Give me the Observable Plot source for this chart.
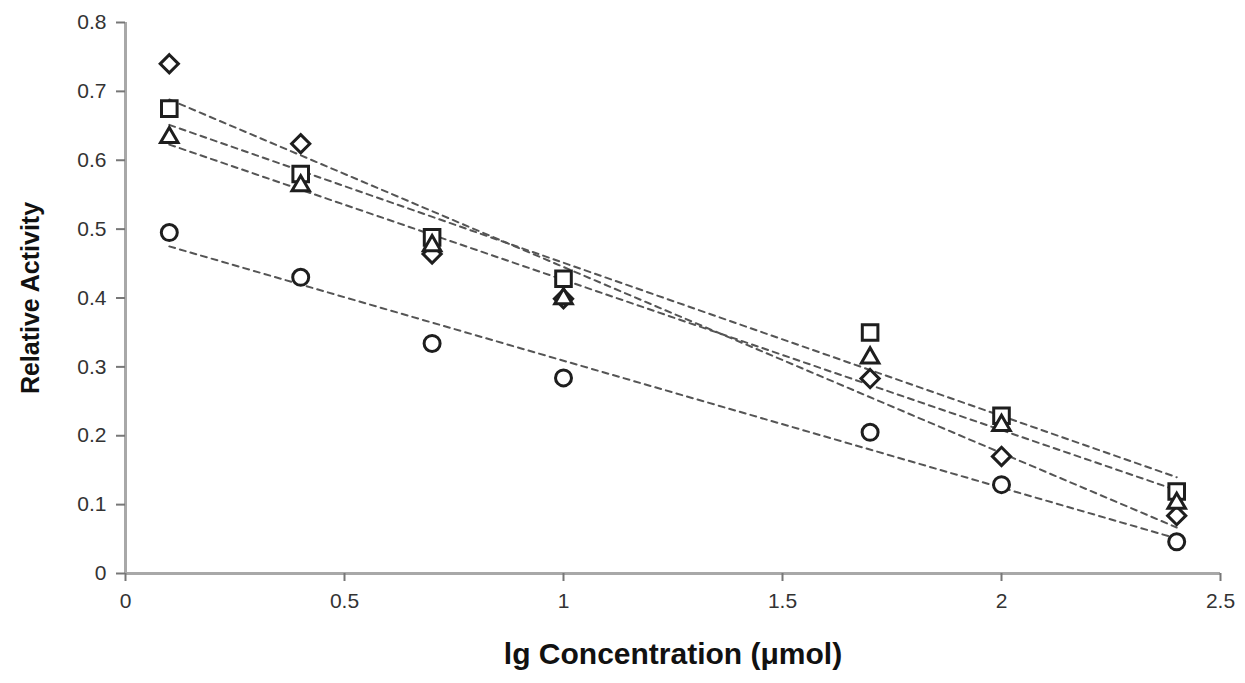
<!DOCTYPE html>
<html>
<head>
<meta charset="utf-8">
<script src="https://cdn.jsdelivr.net/npm/d3@7"></script>
<script src="https://cdn.jsdelivr.net/npm/@observablehq/plot@0.6"></script>
<style>
  html, body { margin: 0; padding: 0; background: #fff; }
  #chart { width: 1245px; height: 683px; }
</style>
</head>
<body>
<div id="chart"></div>
<script>
// ---- data ----
const concentrations = [0.1, 0.4, 0.7, 1.0, 1.7, 2.0, 2.4];
const diamondValues  = [0.740, 0.624, 0.464, 0.399, 0.283, 0.170, 0.084];
const squareValues   = [0.675, 0.580, 0.488, 0.428, 0.350, 0.229, 0.119];
const triangleValues = [0.633, 0.563, 0.476, 0.399, 0.313, 0.215, 0.102];
const circleValues   = [0.495, 0.430, 0.334, 0.284, 0.205, 0.129, 0.046];
const xTicks = [0, 0.5, 1, 1.5, 2, 2.5];
const yTicks = [0, 0.1, 0.2, 0.3, 0.4, 0.5, 0.6, 0.7, 0.8];
const xTitle = "lg Concentration (μmol)";
const yTitle = "Relative Activity";

const series = [
  {name: "diamond",  symbol: "diamond2", r: 8.2, values: diamondValues},
  {name: "square",   symbol: "square",   r: 8.8, values: squareValues},
  {name: "triangle", symbol: "triangle", r: 6.5, values: triangleValues},
  {name: "circle",   symbol: "circle",   r: 8,   values: circleValues}
];
const rows = series.flatMap(s => concentrations.map((x, i) => ({series: s.name, x, y: s.values[i]})));

const ink = "#1e1e1e";
const lineInk = "#555";

const marks = [
  Plot.ruleY([0], {stroke: "#a8a8a8", strokeWidth: 3}),
  Plot.ruleX([0], {stroke: "#a8a8a8", strokeWidth: 3}),
  Plot.axisX({ticks: xTicks, tickFormat: d => String(d), tickSize: 8, tickPadding: 12,
    fontSize: 21, stroke: "#777", strokeWidth: 2, fill: "#333", label: null}),
  Plot.axisY({ticks: yTicks, tickFormat: d => String(d), tickSize: 9, tickPadding: 10,
    fontSize: 21, stroke: "#777", strokeWidth: 2, fill: "#333", label: null}),
  ...series.map(s => Plot.linearRegressionY(rows.filter(d => d.series === s.name), {
    x: "x", y: "y", ci: 0, stroke: lineInk, strokeWidth: 2, strokeDasharray: "6,5"
  })),
  ...series.map(s => Plot.dot(rows.filter(d => d.series === s.name), {
    x: "x", y: "y", symbol: () => s.symbol, r: s.r, stroke: ink, strokeWidth: 3, fill: "white"
  })),
  Plot.text([xTitle], {frameAnchor: "bottom", dy: 90, fontSize: 30, fontWeight: "bold", fill: "#111"}),
  Plot.text([yTitle], {frameAnchor: "left", dx: -95, rotate: -90, textAnchor: "middle",
    fontSize: 25, fontWeight: "bold", fill: "#111"})
];

const chart = Plot.plot({
  width: 1245,
  height: 683,
  marginLeft: 125,
  marginRight: 25,
  marginTop: 22,
  marginBottom: 110,
  style: {fontFamily: "'Liberation Sans', Arial, sans-serif", fontSize: "21px", background: "white"},
  x: {domain: [0, 2.5]},
  y: {domain: [0, 0.8]},
  marks
});
document.getElementById("chart").appendChild(chart);
</script>
</body>
</html>
